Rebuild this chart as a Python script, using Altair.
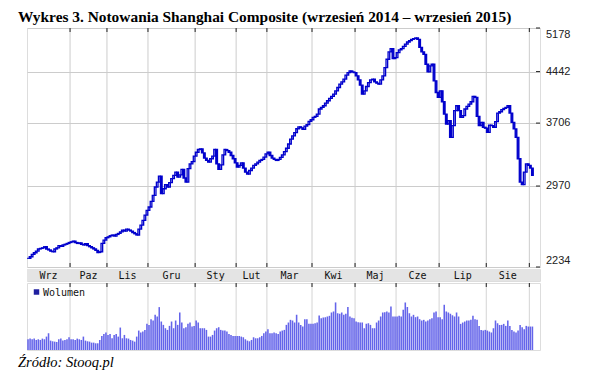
import altair as alt
import pandas as pd

TITLE = "Wykres 3. Notowania Shanghai Composite (wrzesień 2014 – wrzesień 2015)"
SOURCE = "Źródło: Stooq.pl"

month_labels = ["Wrz", "Paz", "Lis", "Gru", "Sty", "Lut", "Mar", "Kwi", "Maj", "Cze", "Lip", "Sie"]
trading_days = [21, 18, 20, 23, 20, 15, 22, 21, 20, 21, 23, 21, 2]
price_ticks = [2234, 2970, 3706, 4442, 5178]

close_sep14 = [2303, 2316, 2336, 2349, 2362, 2380, 2385, 2390, 2399, 2380, 2372, 2362, 2357, 2380, 2390, 2408, 2402, 2414, 2420, 2427, 2435]
close_oct14 = [2441, 2447, 2435, 2427, 2432, 2420, 2414, 2425, 2408, 2399, 2390, 2380, 2369, 2351, 2357, 2427, 2456, 2476]
close_nov14 = [2484, 2494, 2500, 2491, 2505, 2514, 2528, 2544, 2535, 2552, 2544, 2535, 2522, 2511, 2500, 2552, 2589, 2633, 2681, 2727]
close_dec14 = [2759, 2815, 2874, 2960, 3012, 3076, 2891, 2942, 2984, 2960, 3005, 3048, 3083, 3119, 3065, 3090, 3149, 3055, 3012, 3157, 3211, 3237, 3300]
close_jan15 = [3345, 3377, 3385, 3337, 3277, 3250, 3230, 3269, 3300, 3377, 3211, 3149, 3200, 3315, 3377, 3365, 3345, 3307, 3269, 3223]
close_feb15 = [3175, 3193, 3223, 3164, 3119, 3098, 3137, 3164, 3193, 3211, 3230, 3250, 3261, 3288, 3326]
close_mar15 = [3345, 3307, 3277, 3261, 3250, 3261, 3284, 3315, 3353, 3392, 3443, 3502, 3543, 3584, 3633, 3658, 3645, 3625, 3666, 3687, 3729, 3750]
close_apr15 = [3782, 3795, 3826, 3894, 3916, 3939, 3976, 4009, 4043, 4071, 4104, 4152, 4200, 4250, 4284, 4325, 4386, 4426, 4452, 4436, 4426]
close_may15 = [4376, 4315, 4235, 4104, 4152, 4215, 4274, 4315, 4325, 4284, 4264, 4250, 4315, 4376, 4505, 4639, 4760, 4817, 4650, 4666]
close_jun15 = [4748, 4793, 4817, 4855, 4893, 4929, 4952, 4976, 4988, 5000, 4976, 4836, 4760, 4720, 4558, 4436, 4532, 4558, 4300, 4127, 4056]
close_jul15 = [4152, 3995, 3826, 3694, 3737, 3525, 3673, 3871, 3939, 3871, 3782, 3804, 3894, 3930, 3962, 3995, 4071, 4056, 3795, 3673, 3715, 3652, 3640]
close_aug15 = [3588, 3680, 3673, 3652, 3724, 3839, 3857, 3885, 3903, 3916, 3939, 3839, 3715, 3631, 3525, 3269, 3012, 2984, 3119, 3211, 3193]
close_sep15 = [3164, 3083]

vol_sep14 = [32, 34, 32, 34, 30, 32, 30, 34, 32, 40, 50, 28, 26, 25, 24, 32, 34, 28, 30, 32, 38]
vol_oct14 = [32, 32, 30, 34, 32, 30, 40, 28, 26, 25, 22, 22, 20, 20, 30, 42, 48, 52]
vol_nov14 = [45, 48, 35, 45, 48, 40, 67, 35, 45, 35, 34, 30, 28, 25, 40, 58, 52, 55, 60, 78]
vol_dec14 = [75, 92, 88, 105, 100, 128, 85, 75, 65, 60, 72, 85, 65, 88, 75, 112, 82, 65, 68, 78, 82, 70, 72]
vol_jan15 = [88, 82, 65, 65, 65, 60, 40, 40, 45, 58, 65, 68, 60, 58, 58, 55, 48, 45, 42, 42]
vol_feb15 = [42, 42, 40, 38, 32, 28, 26, 30, 38, 35, 35, 38, 42, 50, 55]
vol_mar15 = [62, 50, 50, 52, 50, 48, 55, 58, 60, 75, 82, 90, 88, 82, 105, 82, 75, 70, 92, 92, 78, 78]
vol_apr15 = [78, 80, 82, 103, 95, 97, 98, 100, 102, 112, 115, 142, 110, 108, 112, 105, 108, 128, 100, 96, 95]
vol_may15 = [85, 83, 82, 82, 65, 78, 80, 75, 65, 65, 82, 88, 100, 112, 113, 115, 112, 130, 100, 100]
vol_jun15 = [100, 102, 100, 120, 142, 128, 110, 100, 105, 98, 100, 92, 88, 90, 85, 88, 92, 95, 112, 115, 98]
vol_jul15 = [98, 92, 135, 115, 112, 108, 104, 100, 112, 100, 78, 82, 85, 88, 88, 90, 102, 92, 90, 72, 60, 58, 60]
vol_aug15 = [58, 55, 52, 65, 88, 80, 75, 75, 78, 72, 88, 72, 60, 55, 52, 58, 75, 68, 62, 72, 70]
vol_sep15 = [70, 70]

close = (close_sep14 + close_oct14 + close_nov14 + close_dec14 + close_jan15 + close_feb15 +
         close_mar15 + close_apr15 + close_may15 + close_jun15 + close_jul15 + close_aug15 + close_sep15)
volume = (vol_sep14 + vol_oct14 + vol_nov14 + vol_dec14 + vol_jan15 + vol_feb15 +
          vol_mar15 + vol_apr15 + vol_may15 + vol_jun15 + vol_jul15 + vol_aug15 + vol_sep15)

BLUE = "#0000cc"
FRAME = "#222222"
GRID = "#cccccc"
W = 513
H_PRICE = 239
H_BAND = 12
H_VOL = 67
X_MAX = 250.2

rows = []
for i, c in enumerate(close):
    o = close[i - 1] if i > 0 else c
    rows.append({"x1": i + 0.1, "x2": i + 0.9, "open": o, "close": c,
                 "fillc": "white" if c >= o else BLUE,
                 "vol": volume[i], "v1": i + 0.12, "v2": i + 0.88})
cdf = pd.DataFrame(rows)

starts = [0]
for n in trading_days:
    starts.append(starts[-1] + n)
bdf = pd.DataFrame({"b": starts[1:-1]})
ldf = pd.DataFrame({"m": month_labels,
                    "c": [(starts[k] + starts[k + 1]) / 2 for k in range(len(month_labels))]})
tdf = pd.DataFrame({"v": price_ticks, "lab": [str(t) for t in price_ticks]})

xs = alt.Scale(domain=[0, X_MAX], nice=False, zero=False)
ys = alt.Scale(type="log", domain=[price_ticks[0], price_ticks[-1]], nice=False, zero=False)
yaxis = alt.Axis(orient="right", values=price_ticks, grid=True, gridColor=GRID,
                 ticks=False, domain=False, labels=False, title=None)

vgrid = alt.Chart(bdf).mark_rule(color=GRID, strokeWidth=1).encode(
    x=alt.X("b:Q", scale=xs, axis=None))
candles = alt.Chart(cdf).mark_rect(stroke=BLUE, strokeWidth=1.3).encode(
    x=alt.X("x1:Q", scale=xs, axis=None), x2="x2:Q",
    y=alt.Y("open:Q", scale=ys, axis=yaxis), y2="close:Q",
    fill=alt.Fill("fillc:N", scale=None))
top_ticks = alt.Chart(bdf).mark_rule(color=FRAME).encode(
    x=alt.X("b:Q", scale=xs, axis=None), y=alt.value(0), y2=alt.value(4))
bot_ticks = alt.Chart(bdf).mark_rule(color=FRAME).encode(
    x=alt.X("b:Q", scale=xs, axis=None), y=alt.value(H_PRICE - 4), y2=alt.value(H_PRICE))
right_ticks = alt.Chart(tdf).mark_rule(color=FRAME).encode(
    y=alt.Y("v:Q", scale=ys, axis=yaxis), x=alt.value(W - 4), x2=alt.value(W))

lab_style = dict(align="left", font="Liberation Sans", fontSize=11, color="#222222")
lab_mid = alt.Chart(tdf.iloc[1:4]).mark_text(baseline="middle", **lab_style).encode(
    y=alt.Y("v:Q", scale=ys, axis=yaxis), x=alt.value(W + 6), text="lab:N")
lab_top = alt.Chart(tdf.iloc[4:5]).mark_text(baseline="middle", dy=7, **lab_style).encode(
    y=alt.Y("v:Q", scale=ys, axis=yaxis), x=alt.value(W + 6), text="lab:N")
lab_bot = alt.Chart(tdf.iloc[0:1]).mark_text(baseline="middle", dy=-6, **lab_style).encode(
    y=alt.Y("v:Q", scale=ys, axis=yaxis), x=alt.value(W + 6), text="lab:N")

title_txt = alt.Chart(pd.DataFrame({"t": [TITLE]})).mark_text(
    align="left", baseline="alphabetic", font="Liberation Serif", fontSize=15.4,
    fontWeight="bold", color="#000000").encode(
    x=alt.value(-9), y=alt.value(-6), text="t:N")

price = alt.layer(vgrid, candles, top_ticks, bot_ticks, right_ticks,
                  lab_mid, lab_top, lab_bot, title_txt).properties(width=W, height=H_PRICE)

band_bg = alt.Chart(pd.DataFrame({"a": [0]})).mark_rect(fill="#e4e4e4").encode(
    x=alt.value(0), x2=alt.value(W), y=alt.value(0), y2=alt.value(H_BAND))
band_txt = alt.Chart(ldf).mark_text(font="DejaVu Sans Mono", fontSize=10, baseline="middle",
                                     color="#111111").encode(
    x=alt.X("c:Q", scale=xs, axis=None), y=alt.value(H_BAND / 2 + 0.5), text="m:N")
band = alt.layer(band_bg, band_txt).properties(width=W, height=H_BAND)

vbars = alt.Chart(cdf).mark_rect(color="#6464ea").encode(
    x=alt.X("v1:Q", scale=xs, axis=None), x2="v2:Q",
    y=alt.Y("vol:Q", scale=alt.Scale(domain=[0, 200], nice=False), axis=None),
    y2=alt.value(H_VOL))
vgrid2 = alt.Chart(bdf).mark_rule(color="#d4d4d4", strokeWidth=1).encode(
    x=alt.X("b:Q", scale=xs, axis=None))
vtop_ticks = alt.Chart(bdf).mark_rule(color=FRAME).encode(
    x=alt.X("b:Q", scale=xs, axis=None), y=alt.value(0), y2=alt.value(4))
leg_sq = alt.Chart(pd.DataFrame({"a": [0]})).mark_square(size=30, color="#1f1f9f", opacity=1).encode(
    x=alt.value(9.5), y=alt.value(9))
leg_txt = alt.Chart(pd.DataFrame({"t": ["Wolumen"]})).mark_text(
    align="left", baseline="middle", font="DejaVu Sans Mono", fontSize=10, color="#111111").encode(
    x=alt.value(16), y=alt.value(9.5), text="t:N")
src_txt = alt.Chart(pd.DataFrame({"t": [SOURCE]})).mark_text(
    align="left", baseline="alphabetic", font="Liberation Serif", fontSize=14.5,
    fontStyle="italic", color="#000000").encode(
    x=alt.value(-9), y=alt.value(84), text="t:N")
vol = alt.layer(vgrid2, vbars, vtop_ticks, leg_sq, leg_txt, src_txt).properties(
    width=W, height=H_VOL)

chart = alt.vconcat(price, band, vol, spacing=0).properties(
    padding={"left": 17, "top": 9, "right": 5, "bottom": 5}
).configure_view(stroke=FRAME, strokeWidth=1).configure(background="white")

chart.save("out.html", embed_options={"renderer": "svg", "actions": False})
